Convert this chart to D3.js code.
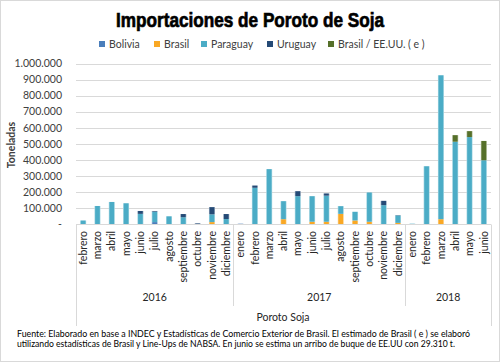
<!DOCTYPE html>
<html>
<head>
<meta charset="utf-8">
<script src="https://cdn.jsdelivr.net/npm/d3@7"></script>
<style>
  html, body { margin: 0; padding: 0; background: #fff; }
  svg { display: block; font-family: Lato, "Open Sans", sans-serif; }
</style>
</head>
<body>
<div id="chart"></div>
<script>
// Importaciones de poroto de soja, toneladas por mes (feb 2016 - jun 2018)
var years = ['2016', '2017', '2018'];
var monthsByYear = [
  ['febrero','marzo','abril','mayo','junio','julio','agosto','septiembre','octubre','noviembre','diciembre'],
  ['enero','febrero','marzo','abril','mayo','junio','julio','agosto','septiembre','octubre','noviembre','diciembre'],
  ['enero','febrero','marzo','abril','mayo','junio']
];
var seriesNames = ['Bolivia', 'Brasil', 'Paraguay', 'Uruguay', 'Brasil / EE.UU. ( e )'];

var bolivia = [0,0,0,0,0,15000,0,0,0,0,0,
  5000,0,0,0,0,0,0,0,0,0,0,0,
  0,0,0,0,0,0];
var brasil = [0,0,0,0,0,0,0,0,0,15000,0,
  0,0,0,33000,3000,17000,17000,66000,25000,17000,0,10000,
  0,0,33000,0,0,0];
var paraguay = [25000,115000,140000,132000,66000,65000,51000,45000,0,48000,34000,
  0,228000,344000,112000,173000,159000,162000,48000,54000,182000,120000,46000,
  5000,362000,894000,514000,543000,399000];
var uruguay = [0,0,0,0,18000,4000,0,20000,7000,45000,31000,
  0,14000,0,0,31000,0,14000,0,0,0,27000,2000,
  0,0,0,0,0,0];
var brasilEEUU = [0,0,0,0,0,0,0,0,0,0,0,
  0,0,0,0,0,0,0,0,0,0,0,0,
  0,0,0,41000,37000,120000];

var yTicks = [0,100000,200000,300000,400000,500000,600000,700000,800000,900000,1000000];

var colors = ['#4a7ebb', '#f9a825', '#4bacc6', '#254a76', '#56702a'];

var W = 500, H = 362;
var svg = d3.select('#chart').append('svg').attr('width', W).attr('height', H);

// frame
svg.append('rect').attr('x', 0.5).attr('y', 0.5).attr('width', W - 1).attr('height', H - 1)
  .attr('fill', '#fff').attr('stroke', '#d9d9d9');

// build flat rows
var rows = [];
monthsByYear.forEach(function (ms, yi) {
  ms.forEach(function (m) { rows.push({ year: years[yi], month: m }); });
});
rows.forEach(function (r, i) {
  r.i = i;
  r.Bolivia = bolivia[i];
  r.Brasil = brasil[i];
  r.Paraguay = paraguay[i];
  r.Uruguay = uruguay[i];
  r['Brasil / EE.UU. ( e )'] = brasilEEUU[i];
});

var x = d3.scaleBand().domain(rows.map(function (d) { return d.i; })).range([76, 491]).padding(0);
var y = d3.scaleLinear().domain([0, 1000000]).range([224.5, 63.5]);

var locale = d3.formatLocale({ decimal: ',', thousands: '.', grouping: [3], currency: ['$', ''] });
var fmt = locale.format(',d');

// gradients
var defs = svg.append('defs');
colors.forEach(function (c, k) {
  var g = defs.append('linearGradient').attr('id', 'g' + k)
    .attr('x1', '0%').attr('x2', '100%').attr('y1', '0%').attr('y2', '0%');
  var light = d3.interpolateRgb(c, '#ffffff')(0.55);
  g.append('stop').attr('offset', '0%').attr('stop-color', light);
  g.append('stop').attr('offset', '20%').attr('stop-color', c);
  g.append('stop').attr('offset', '80%').attr('stop-color', c);
  g.append('stop').attr('offset', '100%').attr('stop-color', light);
});

// gridlines
svg.append('g').selectAll('line').data(yTicks.slice(1)).join('line')
  .attr('x1', 76).attr('x2', 491)
  .attr('y1', function (d) { return Math.round(y(d)) + 0.5; })
  .attr('y2', function (d) { return Math.round(y(d)) + 0.5; })
  .attr('stroke', '#d9d9d9');

// y axis labels
svg.append('g').selectAll('text').data(yTicks).join('text')
  .attr('x', 62).attr('y', function (d) { return y(d); }).attr('dy', '0.35em')
  .attr('text-anchor', 'end').attr('font-size', '10.5px').attr('fill', '#404040')
  .text(function (d) { return d === 0 ? '-' : fmt(d); });

svg.append('text').attr('transform', 'translate(15,145) rotate(-90)')
  .attr('text-anchor', 'middle').attr('font-size', '10.5px').attr('font-weight', 'bold')
  .attr('fill', '#404040').text('Toneladas');

// stacked bars
var stack = d3.stack().keys(seriesNames);
var layers = stack(rows);
var bw = 6;
svg.append('g').selectAll('g').data(layers).join('g')
  .attr('fill', function (d, k) { return 'url(#g' + k + ')'; })
  .selectAll('rect').data(function (d) { return d; }).join('rect')
  .attr('x', function (d) { return x(d.data.i) + x.bandwidth() / 2 - bw / 2; })
  .attr('y', function (d) { return y(d[1]); })
  .attr('width', bw)
  .attr('height', function (d) { return Math.max(0, y(d[0]) - y(d[1])); });

// x axis line and group separators
var axis = svg.append('g').attr('stroke', '#d9d9d9');
axis.append('line').attr('x1', 76).attr('x2', 491).attr('y1', 224.5).attr('y2', 224.5);
var bounds = [0];
var acc = 0;
monthsByYear.forEach(function (ms) { acc += ms.length; bounds.push(acc); });
bounds.forEach(function (b, k) {
  var xx = b < rows.length ? x(b) : x.range()[1];
  xx = Math.round(xx) + 0.5;
  var outer = (k === 0 || k === bounds.length - 1);
  axis.append('line').attr('x1', xx).attr('x2', xx).attr('y1', 224.5).attr('y2', outer ? 326 : 306);
});

// month labels
svg.append('g').selectAll('text').data(rows).join('text')
  .attr('transform', function (d) {
    return 'translate(' + (x(d.i) + x.bandwidth() / 2) + ',231) rotate(-90)';
  })
  .attr('dy', '0.35em').attr('text-anchor', 'end')
  .attr('font-size', '10.5px').attr('fill', '#262626')
  .text(function (d) { return d.month; });

// year labels
svg.append('g').selectAll('text').data(years).join('text')
  .attr('x', function (d, k) {
    var a = x(bounds[k]);
    var b = bounds[k + 1] < rows.length ? x(bounds[k + 1]) : x.range()[1];
    return (a + b) / 2;
  })
  .attr('y', 301).attr('text-anchor', 'middle')
  .attr('font-size', '10.5px').attr('fill', '#262626')
  .text(function (d) { return d; });

svg.append('text').attr('x', 283).attr('y', 321).attr('text-anchor', 'middle')
  .attr('font-size', '10.5px').attr('fill', '#262626').text('Poroto Soja');

// title
svg.append('text').attr('x', 250).attr('y', 27).attr('text-anchor', 'middle')
  .attr('font-family', '"Liberation Sans Narrow", "Arial Narrow", sans-serif')
  .attr('font-weight', 'bold').attr('font-size', '21px').attr('fill', '#000')
  .attr('stroke', '#000').attr('stroke-width', 0.7)
  .attr('textLength', 268).attr('lengthAdjust', 'spacingAndGlyphs')
  .text('Importaciones de Poroto de Soja');

// legend
var legendX = [99, 154, 201, 267, 328];
var leg = svg.append('g').selectAll('g').data(seriesNames).join('g')
  .attr('transform', function (d, k) { return 'translate(' + legendX[k] + ',44)'; });
leg.append('rect').attr('x', 0).attr('y', -3).attr('width', 6).attr('height', 6)
  .attr('fill', function (d, k) { return colors[k]; });
leg.append('text').attr('x', 10).attr('dy', '0.35em').attr('font-size', '10.5px')
  .attr('fill', '#404040').text(function (d) { return d; });

// footnote
var notes = [
  'Fuente: Elaborado en base a INDEC y Estadísticas de Comercio Exterior de Brasil. El estimado de Brasil ( e ) se elaboró',
  'utilizando estadísticas de Brasil y Line-Ups de NABSA. En junio se estima un arribo de buque de EE.UU con 29.310 t.'
];
var noteLen = [453, 438];
svg.append('g').selectAll('text').data(notes).join('text')
  .attr('x', 17).attr('y', function (d, k) { return 337 + k * 10; })
  .attr('font-size', '9.2px').attr('fill', '#000')
  .attr('textLength', function (d, k) { return noteLen[k]; })
  .attr('lengthAdjust', 'spacingAndGlyphs')
  .text(function (d) { return d; });
</script>
</body>
</html>
